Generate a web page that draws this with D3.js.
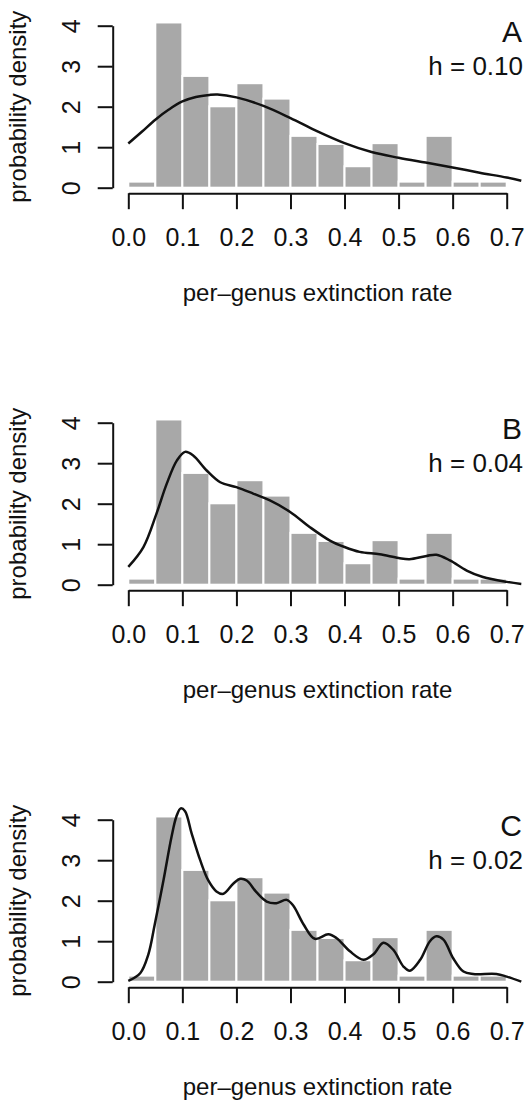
<!DOCTYPE html>
<html lang="en">
<head>
  <meta charset="UTF-8">
  <title>Per-genus extinction rate densities</title>
  <script src="https://d3js.org/d3.v7.min.js"></script>
  <style>
    body { margin: 0; background: #fff; }
    svg text { font-family: "Liberation Sans", Arial, Helvetica, sans-serif; fill: #111; }
    .axis path, .axis line { stroke: #111; stroke-width: 2; }
    .bar { fill: #a8a8a8; stroke: #fff; stroke-width: 2; }
    .kde { fill: none; stroke: #111; stroke-width: 2.5; }
  </style>
</head>
<body>
  <div id="chart"></div>
  <script>
    // Histogram: bin starts (width 0.05) and densities, same in all three panels
    const binStarts = [0.00, 0.05, 0.10, 0.15, 0.20, 0.25, 0.30, 0.35, 0.40, 0.45, 0.50, 0.55, 0.60, 0.65];
    const binWidth = 0.05;
    const density = [0.15, 4.08, 2.76, 2.01, 2.58, 2.20, 1.28, 1.08, 0.53, 1.10, 0.15, 1.28, 0.15, 0.15];

    const xTicks = [0.0, 0.1, 0.2, 0.3, 0.4, 0.5, 0.6, 0.7];
    const yTicks = [0, 1, 2, 3, 4];

    const panelLetters = ["A", "B", "C"];
    const bandwidths = ["0.10", "0.04", "0.02"];

    // Kernel density curves as [rate, density]
    const kdeA = [[0, 1.09], [0.025, 1.38], [0.05, 1.68], [0.075, 1.93], [0.1, 2.13], [0.125, 2.24],
      [0.15, 2.29], [0.165, 2.30], [0.2, 2.23], [0.25, 2.02], [0.3, 1.72], [0.35, 1.39], [0.4, 1.10],
      [0.45, 0.88], [0.5, 0.74], [0.55, 0.62], [0.6, 0.50], [0.65, 0.37], [0.7, 0.25], [0.727, 0.17]];
    const kdeB = [[0, 0.44], [0.028, 0.93], [0.052, 1.75], [0.071, 2.49], [0.09, 3.07], [0.105, 3.28],
      [0.12, 3.19], [0.145, 2.82], [0.17, 2.53], [0.2, 2.41], [0.231, 2.25], [0.262, 2.08], [0.3, 1.79],
      [0.336, 1.42], [0.373, 1.09], [0.4, 0.93], [0.428, 0.81], [0.465, 0.75], [0.5, 0.66], [0.52, 0.63],
      [0.552, 0.71], [0.57, 0.74], [0.595, 0.60], [0.626, 0.35], [0.656, 0.19], [0.7, 0.07], [0.727, 0.02]];
    const kdeC = [[0, 0.02], [0.022, 0.21], [0.037, 0.67], [0.049, 1.42], [0.065, 2.5], [0.08, 3.58],
      [0.089, 4.08], [0.097, 4.28], [0.105, 4.21], [0.117, 3.67], [0.133, 3.0], [0.148, 2.5], [0.163, 2.23],
      [0.176, 2.17], [0.194, 2.42], [0.207, 2.54], [0.219, 2.5], [0.237, 2.21], [0.256, 1.98], [0.274, 1.94],
      [0.293, 2.02], [0.305, 1.88], [0.324, 1.42], [0.345, 1.06], [0.37, 1.17], [0.385, 1.08], [0.41, 0.75],
      [0.435, 0.54], [0.453, 0.67], [0.472, 0.96], [0.49, 0.79], [0.509, 0.375], [0.521, 0.27], [0.54, 0.54],
      [0.558, 1.0], [0.57, 1.12], [0.583, 1.04], [0.601, 0.58], [0.62, 0.25], [0.638, 0.19], [0.681, 0.19],
      [0.7, 0.125], [0.727, 0.0]];
    const curves = [kdeA, kdeB, kdeC];

    const width = 526, height = 1101;
    const panelStep = 397;      // vertical distance between panels
    const firstBase = 187.7;    // y of density 0 in the first panel
    const panelHeight = 162;    // pixels from 0 to 4

    const svg = d3.select("#chart").append("svg")
      .attr("width", width)
      .attr("height", height);

    const x = d3.scaleLinear().domain([0, 0.7]).range([128.3, 506.7]);

    const line = d3.line()
      .x(d => x(d[0]))
      .curve(d3.curveCatmullRom.alpha(0.5));

    panelLetters.forEach((letter, i) => {
      const base = firstBase + panelStep * i;
      const y = d3.scaleLinear().domain([0, 4]).range([base, base - panelHeight]);
      const g = svg.append("g");

      // bars
      g.selectAll(".bar")
        .data(binStarts.map((s, j) => ({ start: s, value: density[j] })))
        .enter().append("rect")
        .attr("class", "bar")
        .attr("x", d => x(d.start))
        .attr("y", d => y(d.value))
        .attr("width", d => x(d.start + binWidth) - x(d.start))
        .attr("height", d => y(0) - y(d.value));

      // density curve
      g.append("path")
        .attr("class", "kde")
        .attr("d", line.y(d => y(d[1]))(curves[i]));

      // x axis
      const xAxis = g.append("g")
        .attr("class", "axis")
        .attr("transform", `translate(0,${base + 5.5})`)
        .call(d3.axisBottom(x).tickValues(xTicks).tickSize(16).tickSizeOuter(0)
          .tickPadding(19).tickFormat(d3.format(".1f")));
      xAxis.attr("font-size", 25).attr("font-family", null);

      // y axis with rotated labels, like R
      const yAxis = g.append("g")
        .attr("class", "axis")
        .attr("transform", "translate(112.7,0)")
        .call(d3.axisLeft(y).tickValues(yTicks).tickSize(15).tickSizeOuter(0)
          .tickFormat(d3.format("d")));
      yAxis.attr("font-size", 25).attr("font-family", null);
      yAxis.selectAll("text")
        .attr("x", null).attr("dy", null)
        .attr("text-anchor", "middle")
        .attr("transform", "translate(-32.7,0) rotate(-90)");

      // axis titles
      g.append("text")
        .attr("transform", `translate(26,${y(2)}) rotate(-90)`)
        .attr("text-anchor", "middle")
        .attr("font-size", 24)
        .text("probability density");

      g.append("text")
        .attr("x", (x(0) + x(0.7)) / 2)
        .attr("y", base + 113.5)
        .attr("text-anchor", "middle")
        .attr("font-size", 24)
        .text("per\u2013genus extinction rate");

      // panel letter and bandwidth
      g.append("text")
        .attr("x", 522)
        .attr("y", base - 146)
        .attr("text-anchor", "end")
        .attr("font-size", 30)
        .text(letter);

      g.append("text")
        .attr("x", 523)
        .attr("y", base - 113)
        .attr("text-anchor", "end")
        .attr("font-size", 26)
        .text(`h = ${bandwidths[i]}`);
    });
  </script>
</body>
</html>
